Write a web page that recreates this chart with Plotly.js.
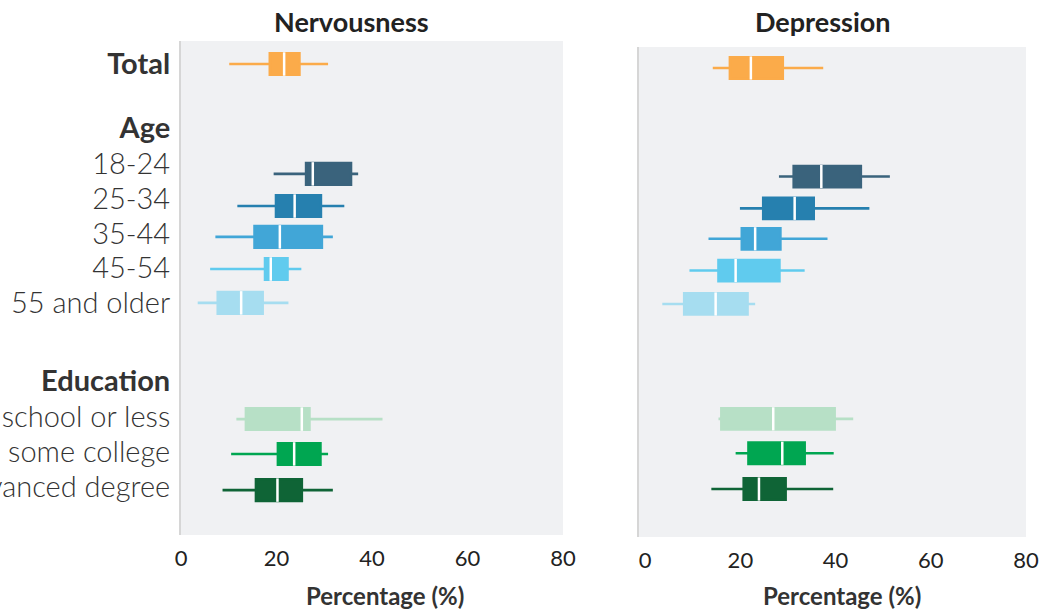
<!DOCTYPE html>
<html>
<head>
<meta charset="utf-8">
<script src="https://cdn.plot.ly/plotly-3.0.1.min.js"></script>
<style>html,body{margin:0;padding:0;background:#fff;}#chart{width:1049px;height:610px;}</style>
</head>
<body>
<div id="chart"></div>
<script>
// ---- data ----
const groups = ['Total','18-24','25-34','35-44','45-54','55 and older','High school or less','some college','Advanced degree'];
const colors = ['#FBAB4A','#3A637C','#2680AF','#41A6D7','#60CBEE','#A6DDF0','#B7E0C6','#00A651','#0F6436'];

const nervLow  = [10.1, 19.4, 11.8,  7.2,  6.1,  3.5, 11.6, 10.5,  8.7];
const nervQ1   = [18.6, 26.2, 19.9, 15.4, 17.6,  7.7, 13.6, 20.3, 15.7];
const nervMed  = [21.6, 27.6, 23.8, 20.7, 18.8, 12.6, 25.3, 23.7, 20.2];
const nervQ3   = [24.8, 35.6, 29.3, 29.5, 22.3, 17.1, 26.9, 29.2, 25.3];
const nervHigh = [30.8, 37.1, 34.2, 31.8, 25.2, 22.5, 42.2, 30.8, 31.8];

const depLow  = [14.2, 28.1, 19.9, 13.3,  9.3,  3.6, 15.4, 19.0, 13.9];
const depQ1   = [17.8, 31.2, 24.8, 20.3, 15.4,  8.2, 16.0, 21.7, 20.7];
const depMed  = [22.2, 37.0, 31.4, 23.1, 19.0, 14.8, 26.9, 28.8, 23.9];
const depQ3   = [28.9, 45.3, 35.4, 28.4, 28.2, 21.5, 39.8, 33.5, 29.5];
const depHigh = [37.4, 51.4, 47.1, 38.3, 33.5, 23.1, 43.7, 39.6, 39.5];

const tickLabels = ['<b>Total</b>','<b>Age</b>','18-24','25-34','35-44','45-54','55 and older','<b>Education</b>','High school or less','some college','Advanced degree'];

// ---- layout positions (row slots) ----
const boxPos  = [0, 3.28, 4.24, 5.16, 6.12, 7.13, 10.6, 11.64, 12.72];
const tickPos = [0, 1.91, 2.99, 4.03, 5.07, 6.09, 7.13, 9.46, 10.54, 11.58, 12.63];
const boxW = 0.64;

const traces = [];
function addPanel(low,q1,med,q3,high,xa,ya){
  groups.forEach((g,i)=>{
    traces.push({
      type:'box', orientation:'h', name:g, showlegend:false,
      y:[boxPos[i]], q1:[q1[i]], median:[med[i]], q3:[q3[i]],
      lowerfence:[low[i]], upperfence:[high[i]],
      width:boxW, whiskerwidth:0, boxpoints:false,
      fillcolor:colors[i], line:{color:colors[i], width:2.6},
      xaxis:xa, yaxis:ya, hoverinfo:'skip'
    });
  });
  const mx=[], my=[];
  groups.forEach((g,i)=>{
    mx.push(med[i],med[i],null);
    my.push(boxPos[i]-boxW/2-0.03, boxPos[i]+boxW/2+0.03, null);
  });
  traces.push({type:'scatter',mode:'lines',x:mx,y:my,line:{color:'#ffffff',width:2.5},
    showlegend:false,hoverinfo:'skip',xaxis:xa,yaxis:ya});
}
addPanel(nervLow,nervQ1,nervMed,nervQ3,nervHigh,'x','y');
addPanel(depLow,depQ1,depMed,depQ3,depHigh,'x2','y2');

const font = 'Lato, "Open Sans", sans-serif';
const xcommon = {
  showgrid:false, zeroline:false, showline:false, ticks:'',
  tickvals:[0,20,40,60,80], tickfont:{family:font,size:22,color:'#222'},
  ticklabelstandoff:8, fixedrange:true
};
const layout = {
  width:1049, height:610,
  margin:{l:0,r:0,t:0,b:0},
  paper_bgcolor:'#ffffff', plot_bgcolor:'#F0F1F3',
  showlegend:false,
  xaxis: Object.assign({}, xcommon, {domain:[181/1049, 563/1049], range:[0,80], anchor:'y'}),
  xaxis2: Object.assign({}, xcommon, {domain:[639/1049, 1026/1049], range:[-1.3,80], anchor:'y2'}),
  yaxis: {domain:[1-535/610, 1-41/610], range:[14.06,-0.687], showgrid:false, zeroline:false,
    showline:true, linecolor:'#d6d6d6', linewidth:2, ticks:'', tickvals:tickPos, ticktext:tickLabels,
    tickfont:{family:font,size:29,color:'#333',weight:300}, ticklabelstandoff:3, automargin:false, anchor:'x'},
  yaxis2: {domain:[1-537/610, 1-47/610], range:[14.17,-0.634], showgrid:false, zeroline:false,
    showline:true, linecolor:'#d6d6d6', linewidth:2, ticks:'', showticklabels:false, anchor:'x2'},
  annotations:[
    {text:'<b>Nervousness</b>', xref:'paper', yref:'paper', x:351/1049, y:1-22/610, xanchor:'center', yanchor:'middle', showarrow:false, font:{family:font,size:27,color:'#222'}},
    {text:'<b>Depression</b>', xref:'paper', yref:'paper', x:823/1049, y:1-22/610, xanchor:'center', yanchor:'middle', showarrow:false, font:{family:font,size:27,color:'#222'}},
    {text:'<b>Percentage (%)</b>', xref:'paper', yref:'paper', x:384.5/1049, y:1-595/610, xanchor:'center', yanchor:'middle', showarrow:false, font:{family:font,size:24,color:'#333'}},
    {text:'<b>Percentage (%)</b>', xref:'paper', yref:'paper', x:842/1049, y:1-595/610, xanchor:'center', yanchor:'middle', showarrow:false, font:{family:font,size:24,color:'#333'}}
  ]
};
Plotly.newPlot('chart', traces, layout, {displayModeBar:false, staticPlot:true});
</script>
</body>
</html>
